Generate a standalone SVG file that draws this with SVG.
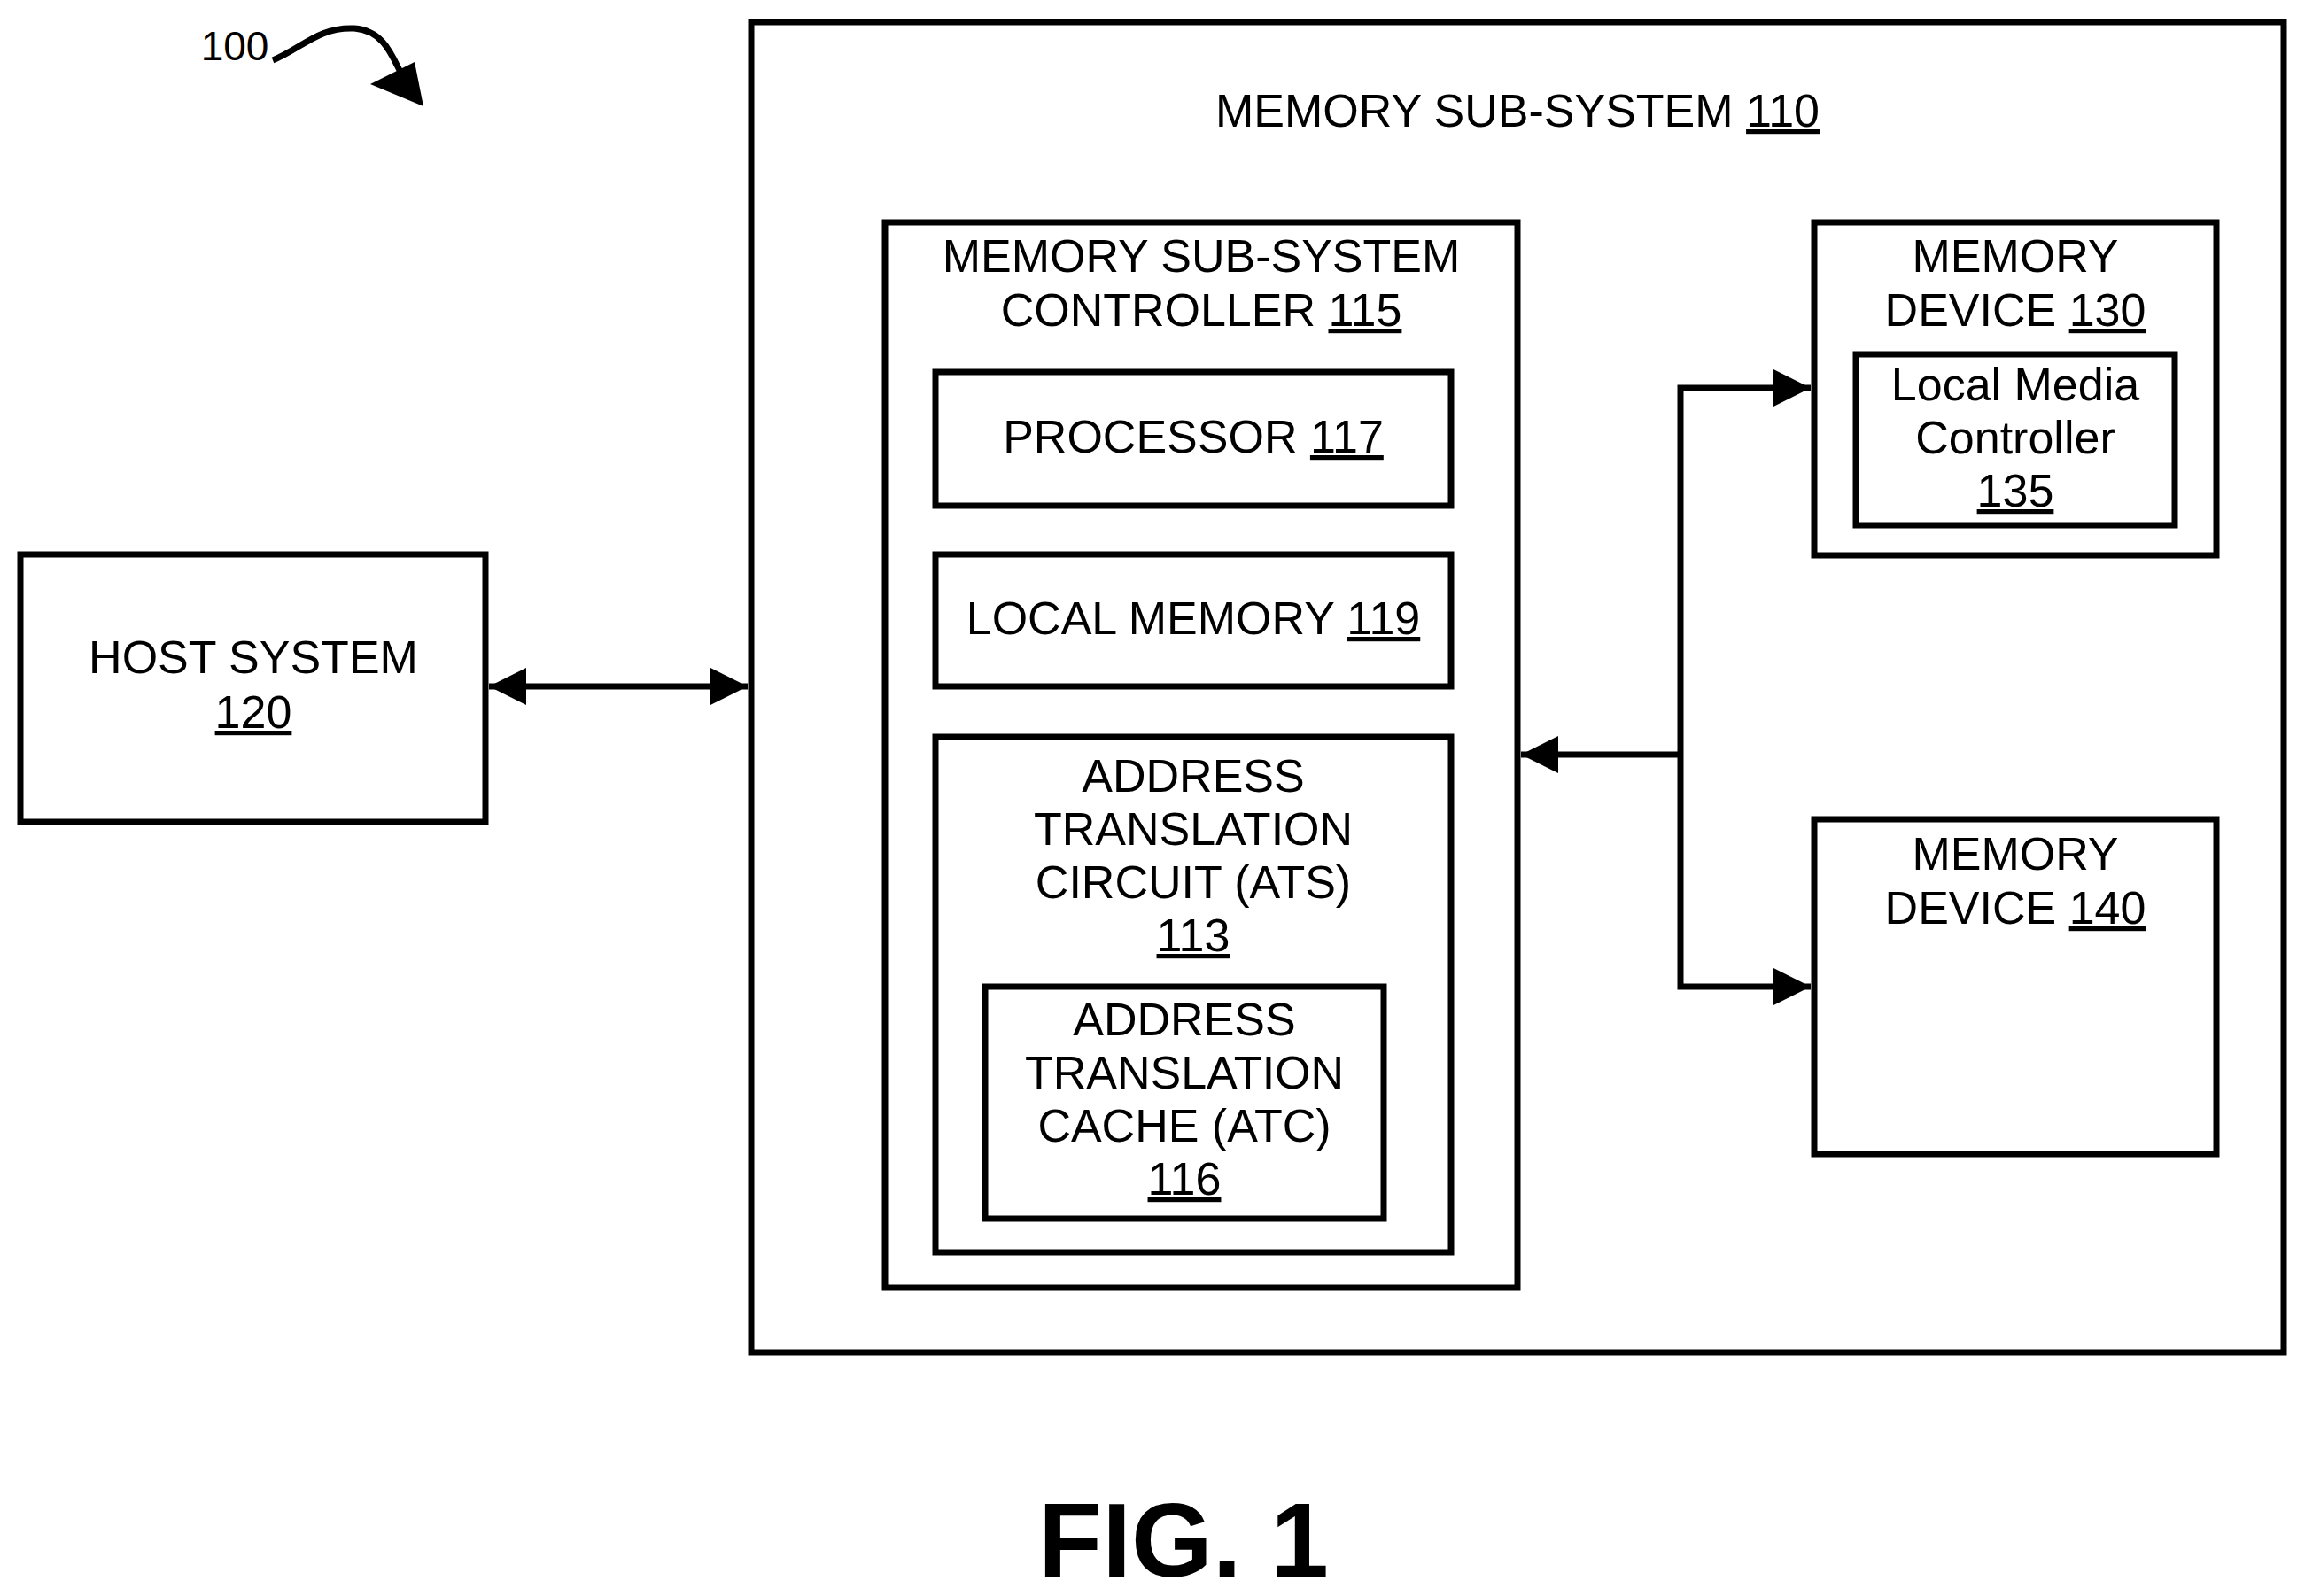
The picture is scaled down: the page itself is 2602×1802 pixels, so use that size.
<svg xmlns="http://www.w3.org/2000/svg" width="2602" height="1802" viewBox="0 0 2602 1802">
<style>
.b{fill:none;stroke:#000;stroke-width:7}
.t{font-family:"Liberation Sans",Arial,sans-serif;font-size:52px;text-anchor:middle;fill:#000}
.c{stroke:#000;stroke-width:7;fill:none}
</style>
<defs>
<marker id="h" viewBox="0 0 10 10" refX="10" refY="5" markerWidth="8" markerHeight="6" orient="auto-start-reverse"><path d="M0,0 L10,5 L0,10 z" fill="#000"/></marker>
</defs>
<rect width="2602" height="1802" fill="#fff"/>
<g id="label100">
<text x="265" y="68" class="t" style="font-size:46px">100</text>
<path d="M308,68 C340,55 360,30 400,32 C440,35 445,75 460,95" class="c" stroke-width="5"/>
<path d="M478,120 L418,95 L468,70 z" fill="#000"/>
</g>
<g id="n110"><rect x="848" y="25" width="1730" height="1502" class="b"/>
<text x="1713" y="143" class="t">MEMORY SUB-SYSTEM <tspan text-decoration="underline">110</tspan></text></g>
<g id="n115"><rect x="999" y="251" width="714" height="1203" class="b"/>
<text x="1356" y="307" class="t">MEMORY SUB-SYSTEM</text>
<text x="1356" y="368" class="t">CONTROLLER <tspan text-decoration="underline">115</tspan></text></g>
<g id="n117"><rect x="1056" y="420" width="582" height="151" class="b"/>
<text x="1347" y="511" class="t">PROCESSOR <tspan text-decoration="underline">117</tspan></text></g>
<g id="n119"><rect x="1056" y="626" width="582" height="149" class="b"/>
<text x="1347" y="716" class="t">LOCAL MEMORY <tspan text-decoration="underline">119</tspan></text></g>
<g id="n113"><rect x="1056" y="832" width="582" height="582" class="b"/>
<text x="1347" y="894" class="t">ADDRESS</text>
<text x="1347" y="954" class="t">TRANSLATION</text>
<text x="1347" y="1014" class="t">CIRCUIT (ATS)</text>
<text x="1347" y="1074" class="t" text-decoration="underline">113</text></g>
<g id="n116"><rect x="1112" y="1114" width="450" height="262" class="b" stroke-width="5"/>
<text x="1337" y="1169" class="t">ADDRESS</text>
<text x="1337" y="1229" class="t">TRANSLATION</text>
<text x="1337" y="1289" class="t">CACHE (ATC)</text>
<text x="1337" y="1349" class="t" text-decoration="underline">116</text></g>
<g id="n130"><rect x="2048" y="251" width="454" height="376" class="b"/>
<text x="2275" y="307" class="t">MEMORY</text>
<text x="2275" y="368" class="t">DEVICE <tspan text-decoration="underline">130</tspan></text></g>
<g id="n135"><rect x="2095" y="400" width="360" height="193" class="b" stroke-width="5"/>
<text x="2275" y="452" class="t">Local Media</text>
<text x="2275" y="512" class="t">Controller</text>
<text x="2275" y="572" class="t" text-decoration="underline">135</text></g>
<g id="n140"><rect x="2048" y="925" width="454" height="378" class="b"/>
<text x="2275" y="982" class="t">MEMORY</text>
<text x="2275" y="1043" class="t">DEVICE <tspan text-decoration="underline">140</tspan></text></g>
<g id="n120"><rect x="23" y="626" width="525" height="302" class="b"/>
<text x="286" y="760" class="t">HOST SYSTEM</text>
<text x="286" y="822" class="t" text-decoration="underline">120</text></g>
<g id="connectors">
<line x1="552" y1="775" x2="844" y2="775" class="c" marker-start="url(#h)" marker-end="url(#h)"/>
<line x1="1897" y1="852" x2="1717" y2="852" class="c" marker-end="url(#h)"/>
<polyline points="2044,438 1897,438 1897,1114 2044,1114" class="c" marker-start="url(#h)" marker-end="url(#h)"/>
</g>
<text x="1336" y="1780" class="t" style="font-size:118px;font-weight:bold">FIG. 1</text>
</svg>
